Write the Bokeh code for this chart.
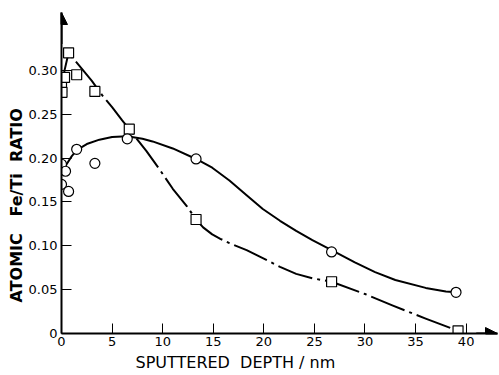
from bokeh.plotting import figure
from bokeh.models import FixedTicker, Arrow, NormalHead, Title
from bokeh.embed import file_html
from bokeh.resources import INLINE

# measured points (square markers)
sq_x = [0.0, 0.05, 0.3, 0.7, 1.5, 3.3, 6.7, 13.3, 26.7, 39.2]
sq_y = [0.281, 0.275, 0.292, 0.320, 0.295, 0.276, 0.233, 0.130, 0.059, 0.003]

# measured points (circle markers)
ci_x = [0.0, 0.0, 0.4, 0.7, 1.5, 3.3, 6.5, 13.3, 26.7, 39.0]
ci_y = [0.193, 0.170, 0.185, 0.162, 0.210, 0.194, 0.222, 0.199, 0.093, 0.047]

# hand-drawn fitted curves
sq_curve_x = [0.0, 0.3, 0.7, 1.2, 2.0, 3.0, 4.0, 5.0, 6.0, 6.7, 7.5, 8.4, 9.7, 11.0,
              12.4, 13.3, 14.0, 14.9, 15.7, 16.6, 18.3, 19.9, 21.6, 23.2, 24.8, 26.7,
              30.0, 32.7, 36.0, 39.2]
sq_curve_y = [0.278, 0.300, 0.320, 0.313, 0.302, 0.288, 0.272, 0.258, 0.243, 0.233,
              0.221, 0.208, 0.187, 0.165, 0.145, 0.130, 0.121, 0.113, 0.108, 0.103,
              0.095, 0.086, 0.076, 0.068, 0.063, 0.059, 0.045, 0.032, 0.017, 0.003]

ci_curve_x = [0.2, 0.5, 1.0, 1.5, 2.5, 3.75, 5.0, 6.5, 8.0, 9.0, 11.0, 13.3, 14.9,
              16.6, 18.3, 19.9, 21.6, 23.2, 24.8, 26.7, 29.0, 31.0, 33.0, 36.0, 38.0, 39.0]
ci_curve_y = [0.184, 0.193, 0.202, 0.209, 0.216, 0.221, 0.224, 0.225, 0.222, 0.219,
              0.211, 0.199, 0.189, 0.1745, 0.1575, 0.142, 0.1285, 0.117, 0.1064, 0.095,
              0.081, 0.070, 0.061, 0.052, 0.048, 0.047]

x_ticks = [0, 5, 10, 15, 20, 25, 30, 35, 40]
y_ticks = [0, 0.05, 0.10, 0.15, 0.20, 0.25, 0.30]
y_tick_labels = ["0", "0.05", "0.10", "0.15", "0.20", "0.25", "0.30"]
x_title = "SPUTTERED\u00a0\u00a0DEPTH\u00a0/\u00a0nm"
y_title = "ATOMIC\u00a0\u00a0\u00a0Fe/Ti\u00a0\u00a0RATIO"

p = figure(width=499, height=375, output_backend="svg", toolbar_location=None,
           x_range=(0, 43.1), y_range=(0, 0.366),
           min_border_left=61, min_border_right=2, min_border_top=12, min_border_bottom=42)
p.outline_line_color = None
p.xgrid.visible = False
p.ygrid.visible = False
p.background_fill_color = "white"
p.border_fill_color = "white"

for ax in (p.xaxis[0], p.yaxis[0]):
    ax.axis_line_width = 2
    ax.axis_line_color = "black"
    ax.major_tick_in = 10
    ax.major_tick_out = 0
    ax.minor_tick_in = 0
    ax.minor_tick_out = 0
    ax.major_tick_line_color = "black"
    ax.major_tick_line_width = 1
    ax.major_label_text_font = "DejaVu Sans"
    ax.major_label_text_font_size = "13px"
    ax.major_label_text_color = "black"

p.xaxis.ticker = FixedTicker(ticks=x_ticks)
p.yaxis.ticker = FixedTicker(ticks=y_ticks)
p.yaxis.major_label_overrides = {t: l for t, l in zip(y_ticks, y_tick_labels)}
p.xaxis.major_label_standoff = 3
p.yaxis.major_label_standoff = 4

# axis titles
p.add_layout(Title(text=x_title, align="left", offset=74, standoff=5,
                   text_font="DejaVu Sans", text_font_size="16px",
                   text_font_style="normal", text_color="black"), "below")
p.add_layout(Title(text=y_title, align="left", offset=31, standoff=0,
                   text_font="DejaVu Sans", text_font_size="16px",
                   text_font_style="bold", text_color="black"), "left")

# arrow heads on axes
p.add_layout(Arrow(end=NormalHead(size=12, fill_color="black", line_color="black"),
                   x_start=0, y_start=0.33, x_end=0, y_end=0.366, line_width=2))
p.add_layout(Arrow(end=NormalHead(size=12, fill_color="black", line_color="black"),
                   x_start=41, y_start=0, x_end=43.1, y_end=0, line_width=2))

p.line(ci_curve_x, ci_curve_y, line_color="black", line_width=2, line_join="round")
p.line(sq_curve_x, sq_curve_y, line_color="black", line_width=2, line_join="round",
       line_dash="36 5 3 5")

p.scatter(sq_x, sq_y, marker="square", size=10, fill_color="white",
          line_color="black", line_width=1.2)
p.scatter(ci_x, ci_y, marker="circle", size=10, fill_color="white",
          line_color="black", line_width=1.2)

open("out.html", "w").write(file_html(p, INLINE))
